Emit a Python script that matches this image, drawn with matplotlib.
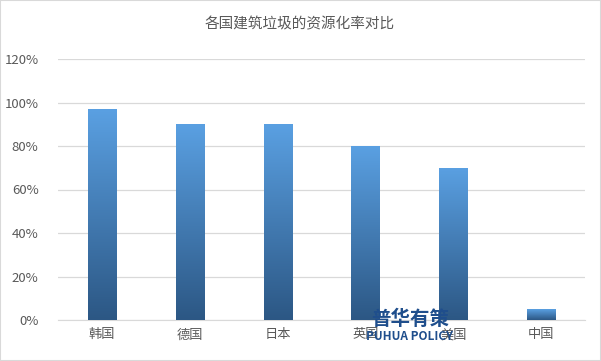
import matplotlib
matplotlib.use("Agg")
import matplotlib.pyplot as plt
import numpy as np
from matplotlib.colors import LinearSegmentedColormap
from matplotlib.patches import Rectangle

plt.rcParams['font.family'] = ['Noto Sans CJK SC', 'DejaVu Sans']

categories = ['韩国', '德国', '日本', '英国', '美国', '中国']
values = [0.97, 0.90, 0.90, 0.80, 0.70, 0.05]
yticks = [0, 0.2, 0.4, 0.6, 0.8, 1.0, 1.2]
ytick_labels = ['0%', '20%', '40%', '60%', '80%', '100%', '120%']
title = '各国建筑垃圾的资源化率对比'

fig = plt.figure(figsize=(6.01, 3.61), dpi=100)
fig.patches.append(Rectangle((0, 0), 1, 1, transform=fig.transFigure, fill=False,
                             edgecolor='#d9d9d9', linewidth=1.5))
ax = fig.add_axes([58/601, 1-320/361, 527/601, 261/361])

x = np.arange(len(categories))
bars = ax.bar(x, values, width=0.32, color='none', edgecolor='none', zorder=3)
cmap = LinearSegmentedColormap.from_list('g', ['#2c5784', '#5aa0e2'])
grad = np.linspace(0, 1, 256).reshape(-1, 1)
for b in bars:
    im = ax.imshow(grad, cmap=cmap, origin='lower', aspect='auto',
                   extent=[b.get_x(), b.get_x() + b.get_width(), 0, b.get_height()],
                   zorder=3)
    im.set_clip_path(b)

ax.set_xlim(-0.5, len(categories) - 0.5)
ax.set_ylim(0, 1.2)
ax.set_yticks(yticks)
ax.set_yticklabels(ytick_labels)
ax.set_xticks(x)
ax.set_xticklabels(categories)
ax.grid(axis='y', color='#d9d9d9', linewidth=0.9, zorder=0)
ax.set_axisbelow(True)
for s in ['top', 'right', 'left']:
    ax.spines[s].set_visible(False)
ax.spines['bottom'].set_color('#d9d9d9')
ax.tick_params(axis='both', length=0, colors='#595959', labelsize=9.5)
ax.tick_params(axis='y', pad=14)
ax.tick_params(axis='x', pad=6)

fig.text(300/601, 1-24/361, title, ha='center', va='center', fontsize=10.5, color='#595959')

# watermark
fig.text(410/601, 1-319/361, '普华有策', ha='center', va='center', fontsize=14,
         fontweight='bold', color='#1f4e8c', zorder=10)
fig.text(410/601, 1-337/361, 'PUHUA POLICY', ha='center', va='center', fontsize=8.5,
         fontweight='bold', color='#1f4e8c', zorder=10)

fig.savefig('out.png', dpi=100)
